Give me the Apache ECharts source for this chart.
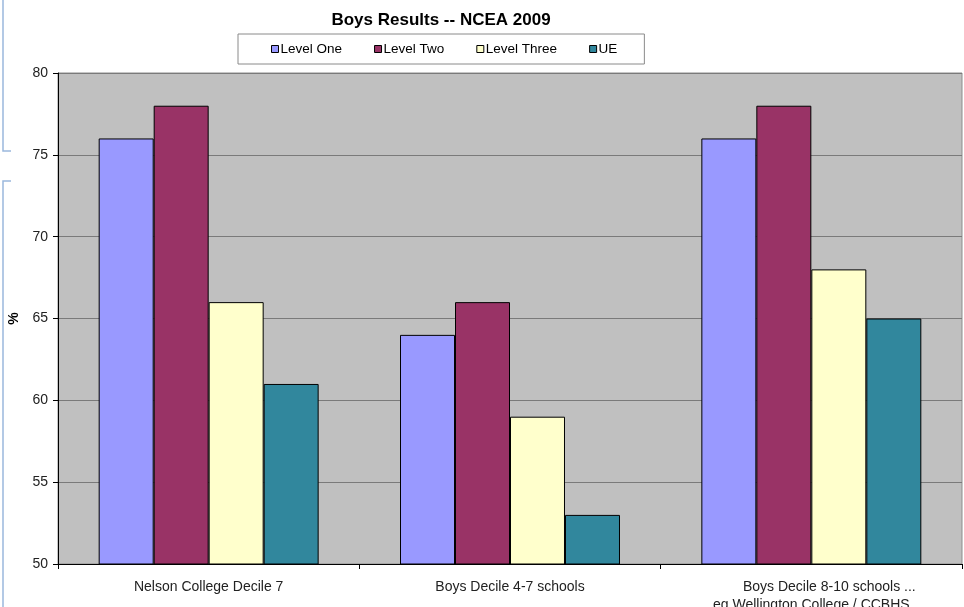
<!DOCTYPE html>
<html><head><meta charset="utf-8">
<script src="https://cdn.jsdelivr.net/npm/echarts@6/dist/echarts.min.js"></script>
<style>html,body{margin:0;padding:0;background:#fff}#c{width:964px;height:607px}</style>
</head><body><div id="c"></div>
<script>
var categories = ['Nelson College Decile 7', 'Boys Decile 4-7 schools', 'Boys Decile 8-10 schools ...\neg Wellington College / CCBHS'];
var levelOne = [76, 64, 76];
var levelTwo = [78, 66, 78];
var levelThree = [66, 59, 68];
var ue = [61, 53, 65];
var yTicks = [50, 55, 60, 65, 70, 75, 80];

var font = 'Liberation Sans, Arial, sans-serif';
var chart = echarts.init(document.getElementById('c'));
function bar(name, data, color) {
  return {
    name: name, type: 'bar', data: data,
    barGap: '0%', barCategoryGap: '27%',
    itemStyle: { color: color, borderColor: '#000', borderWidth: 1 },
    emphasis: { disabled: true }
  };
}
chart.setOption({
  animation: false,
  backgroundColor: '#fff',
  title: {
    text: 'Boys Results -- NCEA 2009', left: 436, top: 7, textAlign: 'center',
    textStyle: { fontFamily: font, fontSize: 17, fontWeight: 'bold', color: '#000' }
  },
  legend: {
    left: 238, top: 34,
    padding: [8, 27, 8, 33],
    borderColor: '#8a8a8a', borderWidth: 1,
    itemGap: 32, itemWidth: 7, itemHeight: 7,
    icon: 'rect',
    textStyle: { fontFamily: font, fontSize: 13.5, color: '#000', padding: [0, 0, 0, -3] },
    itemStyle: { borderColor: '#000', borderWidth: 1 },
    data: ['Level One', 'Level Two', 'Level Three', 'UE']
  },
  grid: { left: 58, right: 2, top: 73, bottom: 43, outerBoundsMode: 'none', containLabel: false, show: true, backgroundColor: '#c0c0c0', borderColor: '#8c8c8c', borderWidth: 1 },
  xAxis: {
    type: 'category', data: categories,
    axisLine: { lineStyle: { color: '#000' } },
    axisTick: { show: true, length: 5, lineStyle: { color: '#000' } },
    axisLabel: {
      fontFamily: font, fontSize: 14, color: '#222', margin: 14, lineHeight: 18,
      formatter: function (v) {
        var parts = v.split('\n');
        if (parts.length < 2) return v;
        return '{a|' + parts[0] + '}\n{b|' + parts[1] + '}';
      },
      rich: {
        a: { fontFamily: font, fontSize: 14, color: '#222', lineHeight: 18, padding: [0, 0, 0, 36] },
        b: { fontFamily: font, fontSize: 14, color: '#222', lineHeight: 18 }
      }
    }
  },
  yAxis: {
    type: 'value', min: yTicks[0], max: yTicks[yTicks.length - 1], interval: 5,
    name: '%', nameLocation: 'middle', nameGap: 35, nameRotate: 90,
    nameTextStyle: { fontFamily: font, fontSize: 14, fontWeight: 'bold', color: '#000' },
    axisLine: { show: true, lineStyle: { color: '#000' } },
    axisTick: { show: true, length: 5, lineStyle: { color: '#000' } },
    axisLabel: { fontFamily: font, fontSize: 14, color: '#222', margin: 10 },
    splitLine: { lineStyle: { color: '#7a7a7a', width: 1 } }
  },
  graphic: [
    { type: 'polyline', shape: { points: [[3, 0], [3, 151], [11, 151]] }, style: { stroke: '#9bb8dd', lineWidth: 1.5, fill: null } },
    { type: 'polyline', shape: { points: [[11, 181], [3, 181], [3, 607]] }, style: { stroke: '#9bb8dd', lineWidth: 1.5, fill: null } }
  ],
  series: [
    bar('Level One', levelOne, '#9999ff'),
    bar('Level Two', levelTwo, '#993366'),
    bar('Level Three', levelThree, '#ffffcc'),
    bar('UE', ue, '#31879d')
  ]
});
</script></body></html>
